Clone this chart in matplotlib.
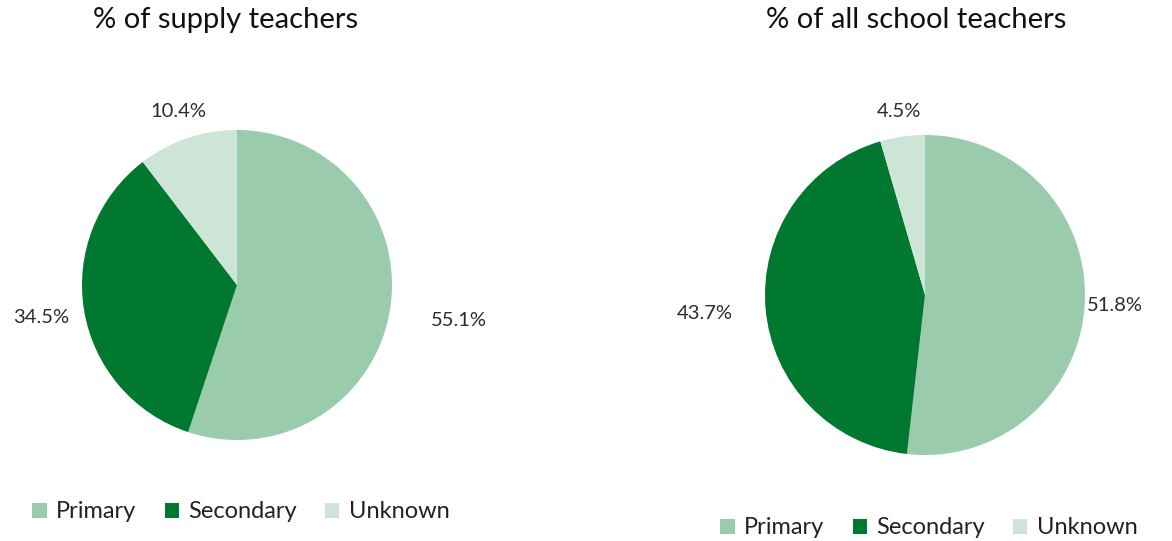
import matplotlib
matplotlib.use("Agg")
import matplotlib.pyplot as plt
import numpy as np

categories = ["Primary", "Secondary", "Unknown"]
supply_pct = [55.1, 34.5, 10.4]
all_pct = [51.8, 43.7, 4.5]
titles = ["% of supply teachers", "% of all school teachers"]
colors = ["#9BCBAD", "#00782F", "#CDE5D7"]

plt.rcParams["font.family"] = ["Lato", "DejaVu Sans"]

W, H = 1172, 541
fig = plt.figure(figsize=(W / 100, H / 100), dpi=100)

# pie centre / radius in pixels, label distances (in radii), legend centre
layouts = [
    dict(cx=237, cy=285, r=155, lab_r=[1.45, 1.28, 1.18], tx=226, leg=(241, 512)),
    dict(cx=925, cy=295, r=160, lab_r=[1.19, 1.38, 1.16], tx=916, leg=(929, 528)),
]

for vals, title, lay in zip([supply_pct, all_pct], titles, layouts):
    r = lay["r"]
    ax = fig.add_axes([(lay["cx"] - r) / W, (H - lay["cy"] - r) / H, 2 * r / W, 2 * r / H])
    wedges, _ = ax.pie(vals, colors=colors, startangle=90, counterclock=False,
                       wedgeprops=dict(linewidth=0))
    ax.set_xlim(-1, 1)
    ax.set_ylim(-1, 1)
    ax.set_aspect("equal")
    for w, v, d in zip(wedges, vals, lay["lab_r"]):
        ang = np.deg2rad((w.theta1 + w.theta2) / 2)
        ax.text(d * np.cos(ang), d * np.sin(ang), f"{v:.1f}%", ha="center", va="center",
                fontsize=14.5, color="#2b2b2b", clip_on=False)
    fig.text(lay["tx"] / W, 1 - 20 / H, title, ha="center", va="center", fontsize=21, color="#111111")
    fig.legend(wedges, categories, loc="center", ncol=3, frameon=False,
               bbox_to_anchor=(lay["leg"][0] / W, 1 - lay["leg"][1] / H),
               fontsize=17, handlelength=0.6, handleheight=0.6, handletextpad=0.4,
               columnspacing=1.2, labelcolor="#222222")

fig.savefig("out.png", dpi=100, facecolor="white")
